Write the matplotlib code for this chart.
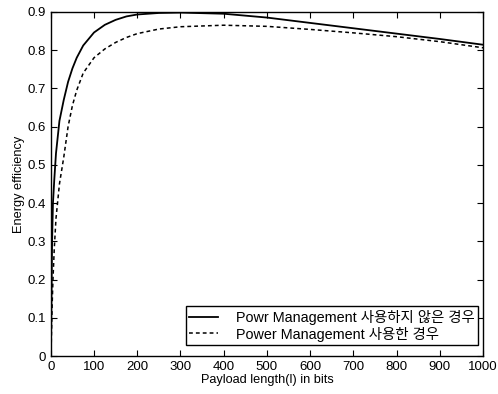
import matplotlib
matplotlib.use("Agg")
import matplotlib.pyplot as plt

plt.rcParams['font.family'] = ['Liberation Sans', 'Noto Sans CJK KR', 'DejaVu Sans']

# payload length (bits) and energy efficiency
payload = [0, 1, 2, 3, 5, 8, 12, 20, 30, 40, 50, 60, 75, 100, 125, 150, 175, 200,
           250, 300, 400, 500, 600, 700, 800, 900, 1000]
eff_no_pm = [0.0, 0.08, 0.2, 0.3, 0.40, 0.46, 0.53, 0.615, 0.67, 0.717, 0.752, 0.78,
             0.812, 0.846, 0.866, 0.879, 0.888, 0.893, 0.897, 0.898, 0.895, 0.885,
             0.871, 0.857, 0.843, 0.829, 0.814]
eff_pm = [0.0, 0.03, 0.08, 0.13, 0.2, 0.28, 0.36, 0.45, 0.52, 0.60, 0.655, 0.695,
          0.74, 0.78, 0.803, 0.82, 0.833, 0.843, 0.855, 0.861, 0.865, 0.862, 0.854,
          0.845, 0.835, 0.822, 0.806]

label_no_pm = "Powr Management 사용하지 않은 경우"
label_pm = "Power Management 사용한 경우"

fig = plt.figure(figsize=(4.98, 3.94), dpi=100)
ax = fig.add_axes([0.102, 0.096, 0.868, 0.874])

ax.plot(payload, eff_no_pm, color='black', lw=1.3, label=label_no_pm)
ax.plot(payload, eff_pm, color='black', lw=1.1, dashes=(2.5, 2), label=label_pm)

ax.set_xlim(0, 1000)
ax.set_ylim(0, 0.9)
ax.set_xticks(range(0, 1001, 100))
ax.set_yticks([i / 10 for i in range(10)])
ax.set_yticklabels(['0'] + [f"{i / 10:.1f}" for i in range(1, 10)])
ax.tick_params(direction='in', top=True, right=True, labelsize=9.5, length=4)
for s in ax.spines.values():
    s.set_linewidth(1.0)

ax.set_xlabel("Payload length(l) in bits", fontsize=9.2, labelpad=1)
ax.set_ylabel("Energy efficiency", fontsize=9.2, labelpad=2)

leg = ax.legend(loc='lower right', bbox_to_anchor=(0.988, 0.032), borderaxespad=0,
                fontsize=10.4, fancybox=False, edgecolor='black', framealpha=1,
                handlelength=2.0, labelspacing=0.1, borderpad=0.25, handletextpad=1.2)
leg.get_frame().set_linewidth(1.0)

fig.savefig("out.png", dpi=100)
